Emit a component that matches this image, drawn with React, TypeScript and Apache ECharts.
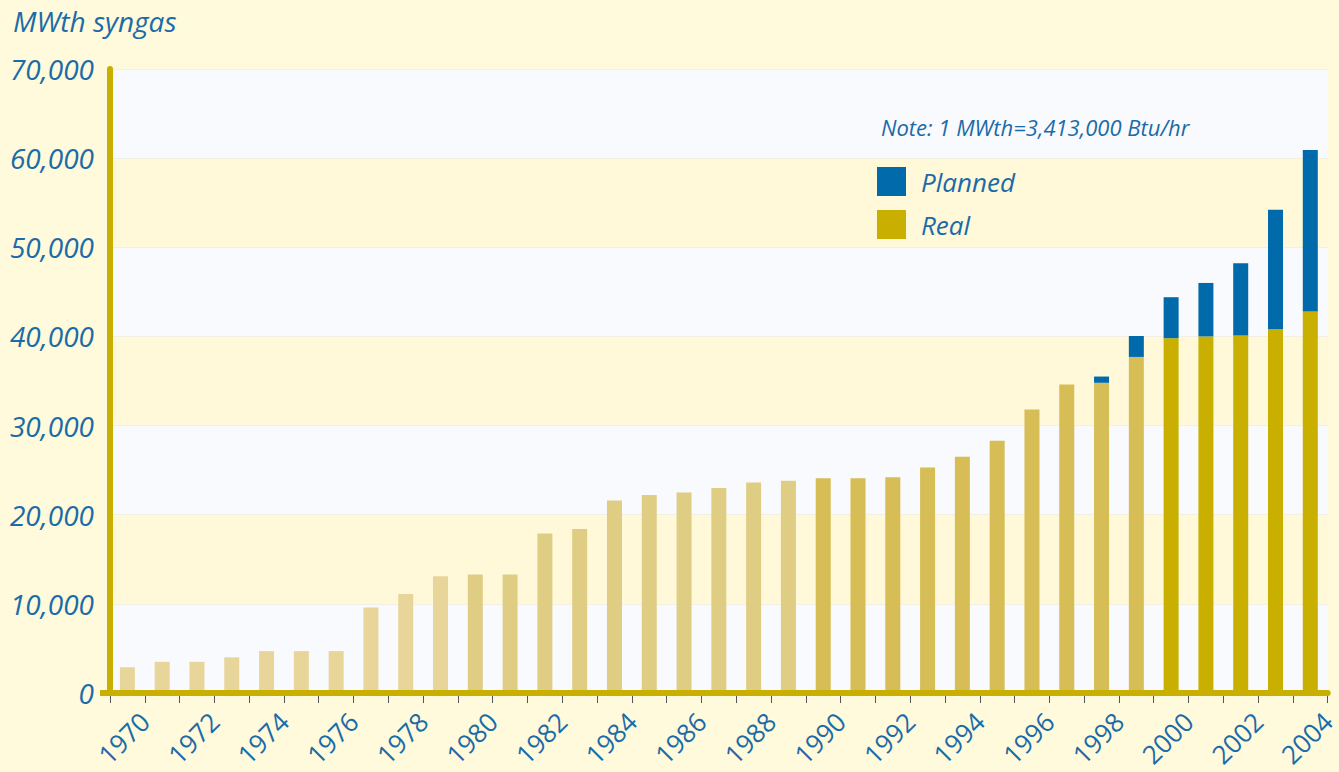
import React, { useEffect, useRef } from "react";
import * as echarts from "echarts";

const years: string[] = [
  "1970", "1971", "1972", "1973", "1974", "1975", "1976", "1977", "1978", "1979",
  "1980", "1981", "1982", "1983", "1984", "1985", "1986", "1987", "1988", "1989",
  "1990", "1991", "1992", "1993", "1994", "1995", "1996", "1997", "1998", "1999",
  "2000", "2001", "2002", "2003", "2004",
];

const realValues: number[] = [
  2900, 3500, 3500, 4000, 4700, 4700, 4700, 9600, 11100, 13100,
  13300, 13300, 17900, 18400, 21600, 22200, 22500, 23000, 23600, 23800,
  24100, 24100, 24200, 25300, 26500, 28300, 31800, 34600, 34800, 37700,
  39800, 40000, 40100, 40800, 42800,
];

const plannedValues: (number | null)[] = [
  null, null, null, null, null, null, null, null, null, null,
  null, null, null, null, null, null, null, null, null, null,
  null, null, null, null, null, null, null, null, 700, 2350,
  4600, 6000, 8100, 13400, 18100,
];

const yTicks: number[] = [0, 10000, 20000, 30000, 40000, 50000, 60000, 70000];

const BLUE_TEXT = "#1A6BA8";
const FONT = "'Open Sans', sans-serif";
const AXIS_YELLOW = "#C8AF00";

function realColor(year: number): string {
  if (year < 1980) return "#E8D59A";
  if (year < 1990) return "#E0CD84";
  if (year < 2000) return "#D6BD55";
  return "#C9B000";
}

export default function App() {
  const ref = useRef<HTMLDivElement>(null);

  useEffect(() => {
    document.body.style.margin = "0";
    document.body.style.background = "#FFFADB";
    if (!ref.current) return;
    const chart = echarts.init(ref.current, null, { renderer: "svg" });
    const n = years.length;
    const option: any = {
      animation: false,
      backgroundColor: "#FFFADB",
      title: {
        text: "MWth syngas",
        left: 8,
        top: 2,
        textStyle: {
          fontSize: 28,
          fontStyle: "italic",
          fontWeight: "normal",
          color: BLUE_TEXT,
          fontFamily: FONT,
        },
      },
      legend: {
        left: 877,
        top: 167,
        padding: 0,
        orient: "vertical",
        icon: "rect",
        itemWidth: 29,
        itemHeight: 29,
        itemGap: 14,
        data: ["Planned", "Real"],
        textStyle: {
          fontSize: 26,
          fontStyle: "italic",
          color: BLUE_TEXT,
          fontFamily: FONT,
          padding: [0, 0, 0, 10],
        },
      },
      graphic: [
        {
          type: "text",
          left: 881,
          top: 116,
          z: 100,
          style: {
            text: "Note: 1 MWth=3,413,000 Btu/hr",
            fontSize: 22,
            fontStyle: "italic",
            fill: BLUE_TEXT,
            fontFamily: FONT,
          },
        },
        {
          type: "rect",
          z: 100,
          shape: { x: 100, y: 690, width: 12, height: 6 },
          style: { fill: AXIS_YELLOW },
        },
      ],
      grid: { left: 110, right: 5, top: 69, bottom: 79, containLabel: false },
      xAxis: [
        {
          type: "category",
          data: years,
          boundaryGap: true,
          position: "bottom",
          axisLine: { show: true, lineStyle: { color: AXIS_YELLOW, width: 6 } },
          axisTick: { show: false },
          axisLabel: { show: false },
          splitLine: { show: false },
          z: 5,
        },
        {
          type: "value",
          min: 0,
          max: n,
          interval: 1,
          position: "bottom",
          axisLine: { show: false },
          axisTick: { show: true, length: 10, lineStyle: { color: "#555", width: 1 } },
          axisLabel: {
            show: true,
            rotate: 45,
            margin: 24,
            fontSize: 26,
            color: BLUE_TEXT,
            fontFamily: FONT,
            formatter: (v: number) => {
              const i = Math.round(v) - 1;
              if (i >= 0 && i < n && i % 2 === 0) return years[i];
              return "";
            },
          },
          splitLine: { show: false },
          z: 4,
        },
      ],
      yAxis: {
        type: "value",
        min: yTicks[0],
        max: yTicks[yTicks.length - 1],
        interval: yTicks[1] - yTicks[0],
        axisLine: { show: true, lineStyle: { color: AXIS_YELLOW, width: 6 } },
        axisTick: { show: false },
        axisLabel: {
          fontSize: 28,
          fontStyle: "italic",
          color: BLUE_TEXT,
          fontFamily: FONT,
          margin: 16,
          formatter: (v: number) => v.toLocaleString("en-US"),
        },
        splitLine: { show: true, lineStyle: { color: "#F2F0E2", width: 1 } },
        splitArea: { show: true, areaStyle: { color: ["#F9FAFD", "#FFF9DA"] } },
      },
      series: [
        {
          name: "Real",
          type: "bar",
          stack: "total",
          xAxisIndex: 0,
          barWidth: 15,
          itemStyle: { color: "#C9B000" },
          data: realValues.map((v, i) => ({
            value: v,
            itemStyle: { color: realColor(parseInt(years[i], 10)) },
          })),
        },
        {
          name: "Planned",
          type: "bar",
          stack: "total",
          xAxisIndex: 0,
          barWidth: 15,
          itemStyle: { color: "#006AAA" },
          data: plannedValues,
        },
      ],
    };
    chart.setOption(option);
    return () => chart.dispose();
  }, []);

  return <div ref={ref} style={{ width: 1339, height: 772 }} />;
}
